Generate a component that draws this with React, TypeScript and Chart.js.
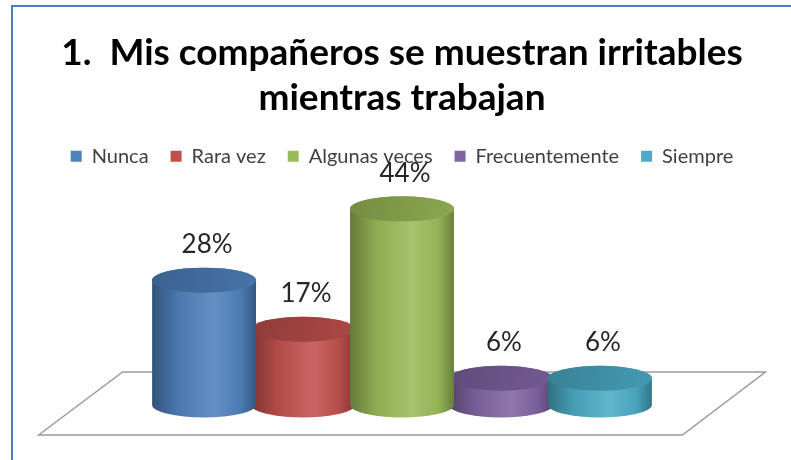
import React, { useEffect, useRef } from 'react';
import { Chart, registerables } from 'chart.js';

Chart.register(...registerables);

const categories = [''];
const seriesNames = ['Nunca', 'Rara vez', 'Algunas veces', 'Frecuentemente', 'Siempre'];
const seriesValues = [28, 17, 44, 6, 6];
const seriesColors = ['#4F81BD', '#C0504D', '#9BBB59', '#8064A2', '#4BACC6'];
const titleLines = ['1.  Mis compañeros se muestran irritables', 'mientras trabajan'];
const drawOrder = [1, 3, 0, 2, 4];

function shade(hex: string, f: number): string {
  const n = parseInt(hex.slice(1), 16);
  let r = (n >> 16) & 255, g = (n >> 8) & 255, b = n & 255;
  if (f < 0) {
    r = Math.round(r * (1 + f)); g = Math.round(g * (1 + f)); b = Math.round(b * (1 + f));
  } else {
    r = Math.round(r + (255 - r) * f); g = Math.round(g + (255 - g) * f); b = Math.round(b + (255 - b) * f);
  }
  return `rgb(${r},${g},${b})`;
}

const cylinderPlugin = {
  id: 'cylinders',
  beforeDraw(chart: any) {
    const ctx = chart.ctx;
    ctx.save();
    ctx.fillStyle = '#ffffff';
    ctx.fillRect(0, 0, chart.width, chart.height);
    ctx.strokeStyle = '#4A7EBB';
    ctx.lineWidth = 2;
    ctx.beginPath();
    ctx.moveTo(12, chart.height);
    ctx.lineTo(12, 6);
    ctx.lineTo(chart.width, 6);
    ctx.stroke();
    ctx.restore();
  },
  beforeDatasetsDraw(chart: any) {
    const metas = chart.getSortedVisibleDatasetMetas();
    if (metas.length < 2) return;
    const first = metas[0].data[0];
    const last = metas[metas.length - 1].data[0];
    const pitch = metas[1].data[0].x - first.x;
    const gl = first.x - pitch / 2;
    const gr = last.x + pitch / 2;
    const y0 = chart.scales.y.getPixelForValue(0);
    const back = y0 - 33;
    const front = y0 + 30;
    const ctx = chart.ctx;
    ctx.save();
    ctx.strokeStyle = '#9a9a9a';
    ctx.lineWidth = 1.5;
    ctx.beginPath();
    ctx.moveTo(gl - 116, front);
    ctx.lineTo(gl - 32, back);
    ctx.lineTo(gr + 116, back);
    ctx.lineTo(gr + 33, front);
    ctx.closePath();
    ctx.stroke();
    ctx.restore();
  },
  beforeDatasetDraw() {
    return false;
  },
  afterDatasetsDraw(chart: any) {
    const ctx = chart.ctx;
    const metas = chart.getSortedVisibleDatasetMetas();
    const ry = 12.5;
    ctx.save();
    for (const i of drawOrder) {
      const meta = metas[i];
      if (!meta) continue;
      const el = meta.data[0];
      const { x, y, base, width } = el.getProps(['x', 'y', 'base', 'width'], true);
      const rx = width / 2;
      const c = seriesColors[i];
      const g = ctx.createLinearGradient(x - rx, 0, x + rx, 0);
      g.addColorStop(0, shade(c, -0.35));
      g.addColorStop(0.25, shade(c, -0.08));
      g.addColorStop(0.6, shade(c, 0.12));
      g.addColorStop(0.85, shade(c, -0.05));
      g.addColorStop(1, shade(c, -0.32));
      ctx.beginPath();
      ctx.moveTo(x - rx, y);
      ctx.lineTo(x - rx, base);
      ctx.ellipse(x, base, rx, ry, 0, Math.PI, 0, true);
      ctx.lineTo(x + rx, y);
      ctx.ellipse(x, y, rx, ry, 0, 0, Math.PI, true);
      ctx.closePath();
      ctx.fillStyle = g;
      ctx.fill();
      const tg = ctx.createLinearGradient(x - rx, y - ry, x + rx, y + ry);
      tg.addColorStop(0, shade(c, -0.25));
      tg.addColorStop(1, shade(c, -0.1));
      ctx.beginPath();
      ctx.ellipse(x, y, rx, ry, 0, 0, Math.PI * 2);
      ctx.fillStyle = tg;
      ctx.fill();
    }
    ctx.font = '26px Lato';
    ctx.fillStyle = '#262626';
    ctx.textAlign = 'center';
    ctx.textBaseline = 'middle';
    metas.forEach((meta: any, i: number) => {
      const el = meta.data[0];
      const { x, y } = el.getProps(['x', 'y'], true);
      ctx.fillText(`${seriesValues[i]}%`, x + 3, y - ry - 23);
    });
    ctx.restore();
  },
};

export default function App() {
  const ref = useRef<HTMLCanvasElement>(null);
  useEffect(() => {
    if (!ref.current) return;
    const chart = new Chart(ref.current, {
      type: 'bar',
      data: {
        labels: categories,
        datasets: seriesNames.map((name, i) => ({
          label: name,
          data: [seriesValues[i]],
          backgroundColor: seriesColors[i],
          borderWidth: 0,
          categoryPercentage: 0.636,
          barPercentage: 1.05,
        })),
      },
      options: {
        animation: false,
        responsive: true,
        maintainAspectRatio: false,
        layout: { padding: { top: 0, left: 13, right: 0, bottom: 55 } },
        scales: {
          x: { display: false },
          y: { display: false, min: 0, max: 51.3 },
        },
        plugins: {
          tooltip: { enabled: false },
          title: {
            display: true,
            text: titleLines,
            color: '#000000',
            font: { family: 'Lato', size: 37, weight: 'bold', lineHeight: 1.22 },
            padding: { top: 30, bottom: 4 },
          },
          legend: {
            display: true,
            position: 'top',
            labels: {
              boxWidth: 11,
              boxHeight: 11,
              padding: 22,
              color: '#404040',
              font: { family: 'Lato', size: 20 },
            },
          },
        },
      },
      plugins: [cylinderPlugin],
    });
    return () => chart.destroy();
  }, []);
  return (
    <div style={{ position: 'absolute', left: 0, top: 0, width: 791, height: 460, background: '#fff' }}>
      <canvas ref={ref} />
    </div>
  );
}
